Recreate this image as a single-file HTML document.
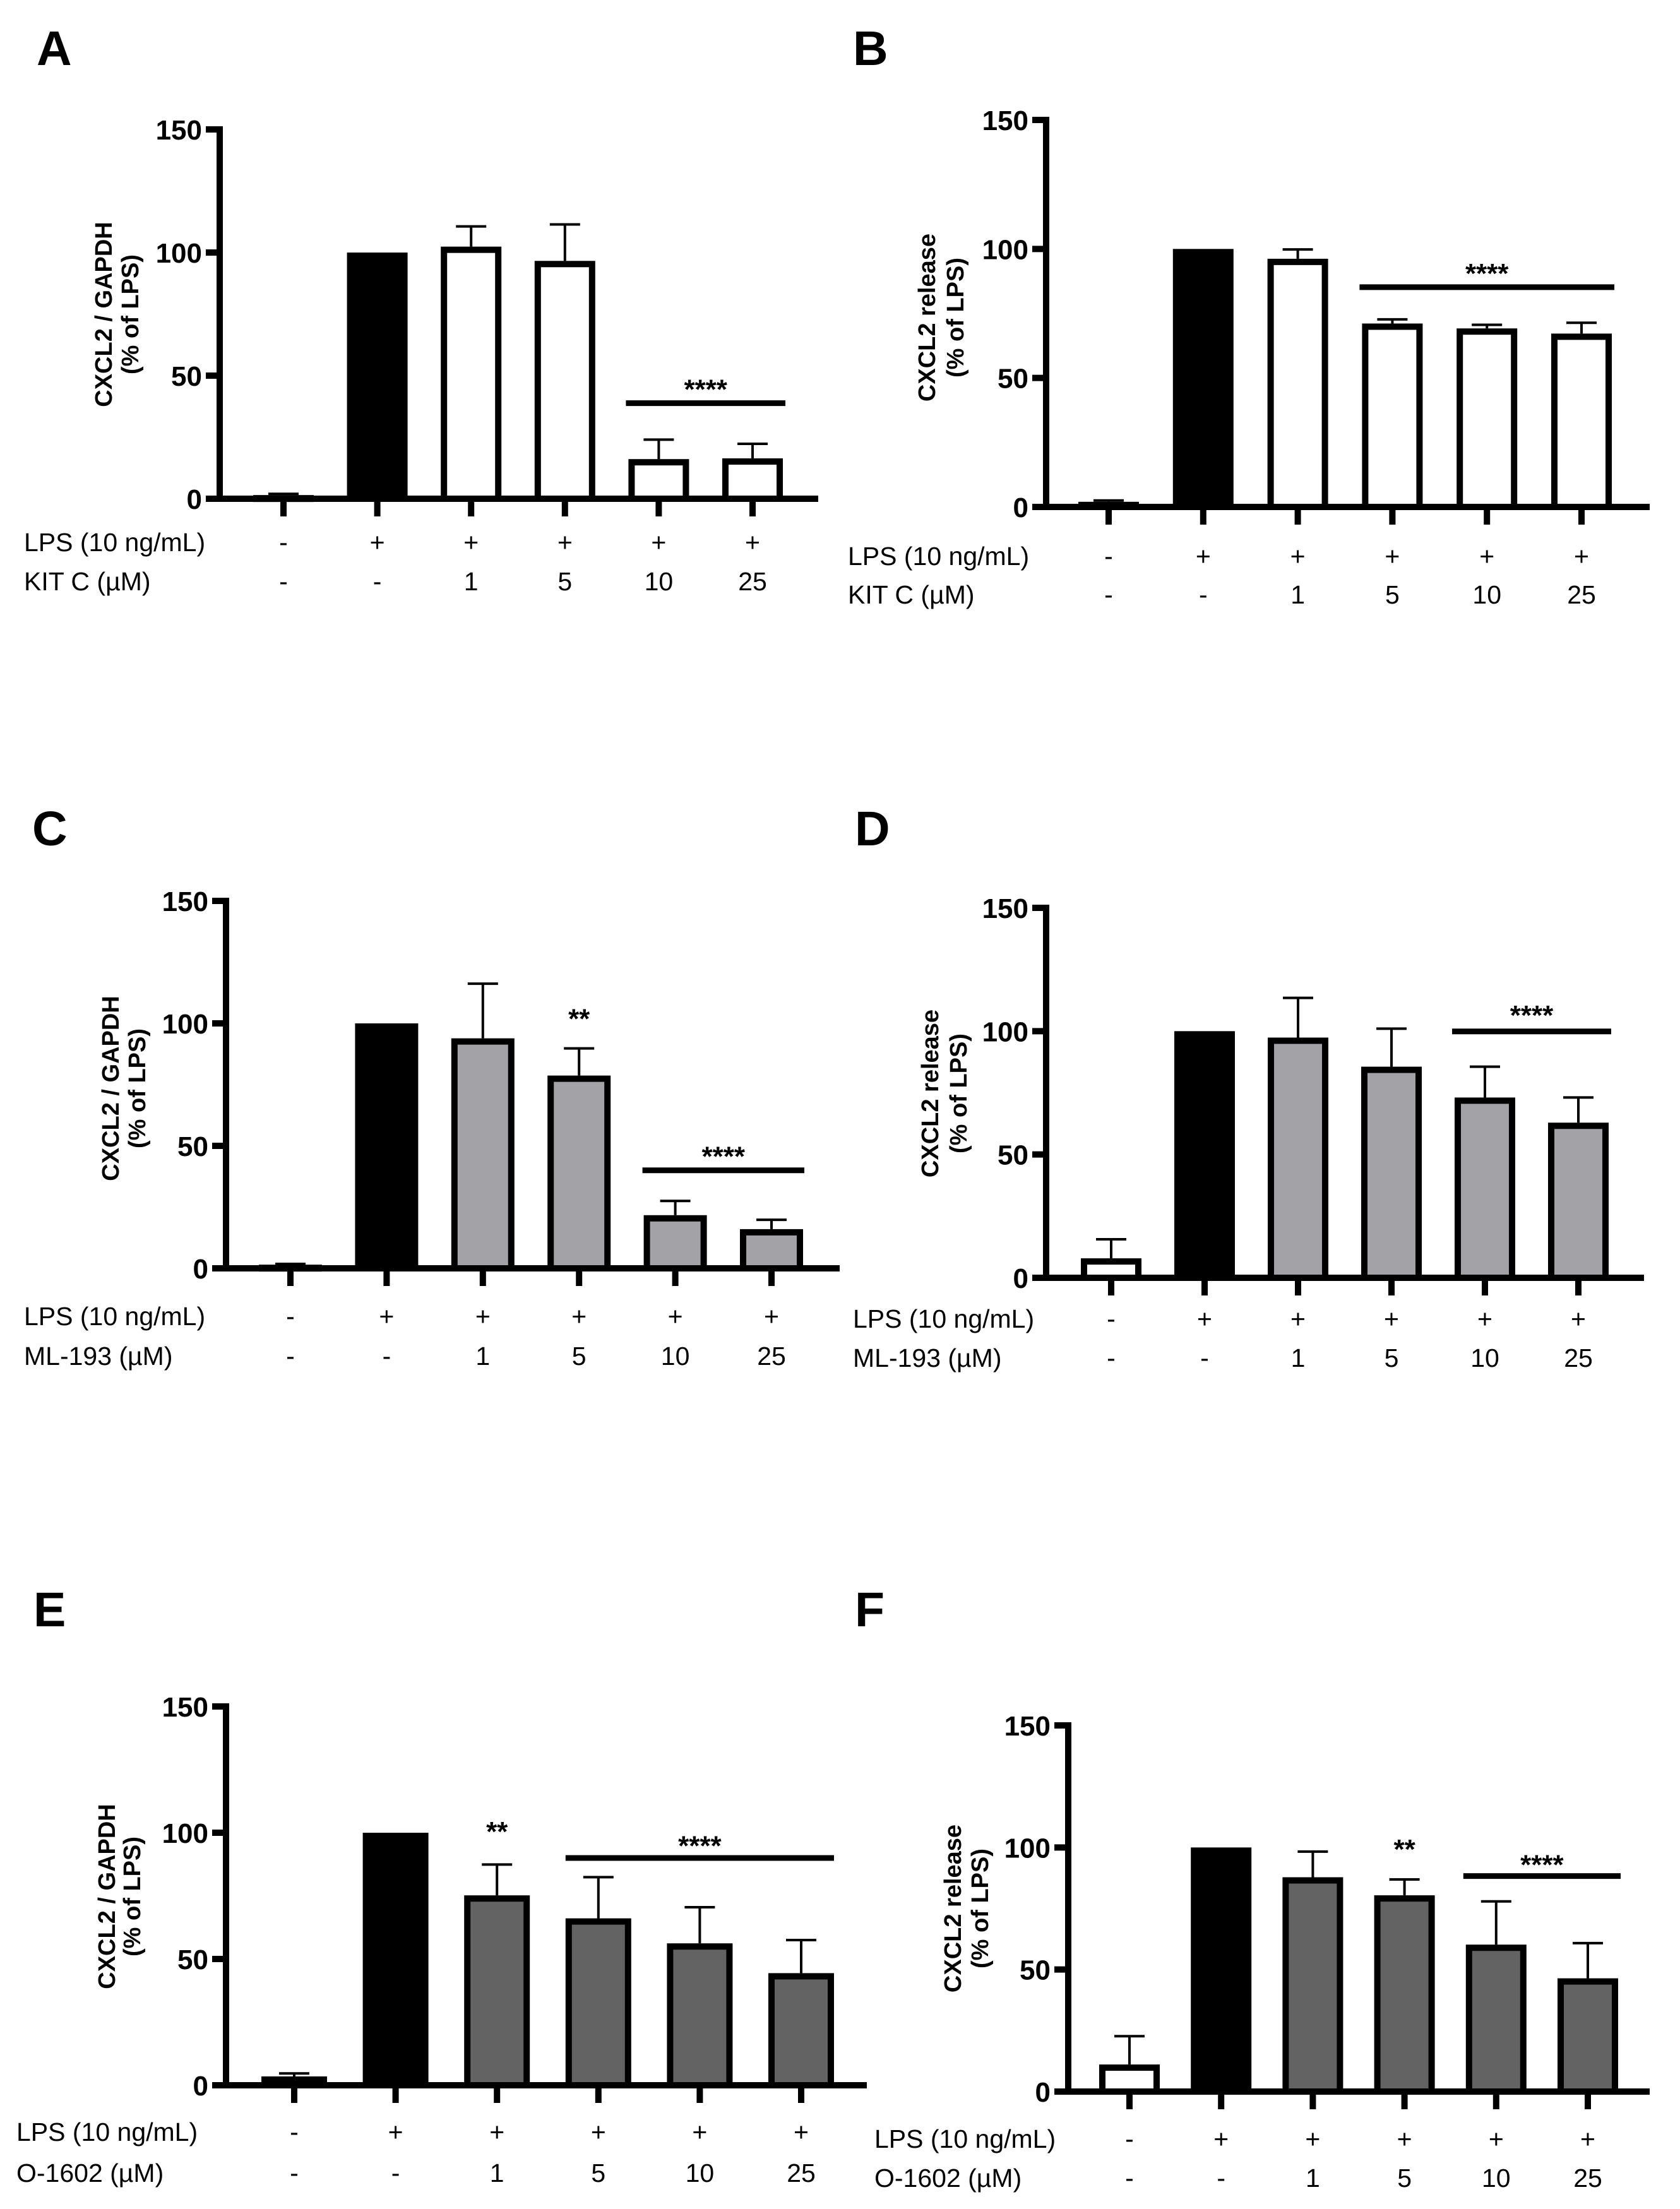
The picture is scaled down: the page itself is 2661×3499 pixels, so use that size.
<!DOCTYPE html>
<html><head><meta charset="utf-8"><style>
html,body{margin:0;padding:0;background:#fff}
svg{display:block}
</style></head><body>
<svg id="fig" width="2661" height="3499" viewBox="0 0 2661 3499" xmlns="http://www.w3.org/2000/svg" font-family="'Liberation Sans', sans-serif"></svg>
<script>
// ---- data ----
const lpsRow = ['-','+','+','+','+','+'];
const doseRow = ['-','-','1','5','10','25'];
const yTicks = [0,50,100,150];
const meanA = [1.5,100,102.4,96.6,16.1,16.4];
const errA  = [0.5,0,8.2,14.8,7.9,5.9];
const meanB = [2,100,96.2,71.1,69.2,67.2];
const errB  = [0.5,0,3.6,1.6,1.4,4.2];
const meanC = [1.5,100,93.9,78.7,21.7,16.0];
const errC  = [0.3,0,22.3,11.1,5.8,3.8];
const meanD = [7.9,100,97.4,85.6,73.1,62.9];
const errD  = [7.7,0,16.1,15.4,12.5,10.2];
const meanE = [3.5,100,75.2,66.1,56.2,44.4];
const errE  = [1.2,0,12.2,16.3,14.3,13.1];
const meanF = [11.1,100,87.8,80.4,60.2,46.4];
const errF  = [11.6,0,10.5,6.5,17.7,14.4];
// significance: [fromIndex, toIndex, lineValue, starValue]
const sigA = [4,5,38.8,47];
const sigB = [3,5,85.2,93];
const sigC = [4,5,40,48.3];
const sigD = [4,5,99.9,109];
const sigE = [3,5,90,97.4];
const sigF = [4,5,88.3,95.5];
// double-star markers: [index, value]
const dblC = [3,104.5];
const dblE = [2,103];
const dblF = [3,101.9];

// ---- layout ----
const NS='http://www.w3.org/2000/svg';
const svg=document.getElementById('fig');
function el(tag,attrs,parent){const e=document.createElementNS(NS,tag);for(const k in attrs)e.setAttribute(k,attrs[k]);(parent||svg).appendChild(e);return e;}

const panels=[
 {id:'a',letter:'A',mean:meanA,err:errA,sig:sigA,dbl:null,fill:'#ffffff',ax:348,y0:790,y150:205,c0:449,step:148.6,bw:96,axEnd:1296,lx:38,rows:[859,921],tx:[164,206],ty:498,L:[58,103],title:'CXCL2 / GAPDH',drug:'KIT C (µM)'},
 {id:'b',letter:'B',mean:meanB,err:errB,sig:sigB,dbl:null,fill:'#ffffff',ax:1657,y0:803,y150:190,c0:1756,step:149.8,bw:96,axEnd:2613,lx:1343,rows:[881,942],tx:[1468,1513],ty:503,L:[1351,103],title:'CXCL2 release',drug:'KIT C (µM)'},
 {id:'c',letter:'C',mean:meanC,err:errC,sig:sigC,dbl:dblC,fill:'#a3a2a7',ax:358,y0:2009,y150:1427,c0:460,step:152.4,bw:100,axEnd:1330,lx:38,rows:[2085,2148],tx:[175,217],ty:1724,L:[51,1339],title:'CXCL2 / GAPDH',drug:'ML-193 (µM)'},
 {id:'d',letter:'D',mean:meanD,err:errD,sig:sigD,dbl:null,fill:'#a3a2a7',ax:1657,y0:2024,y150:1438,c0:1760,step:148,bw:96,axEnd:2604,lx:1351,rows:[2089,2151],tx:[1473,1518],ty:1732,L:[1354,1339],title:'CXCL2 release',drug:'ML-193 (µM)'},
 {id:'e',letter:'E',mean:meanE,err:errE,sig:sigE,dbl:dblE,fill:'#636363',ax:358,y0:3303,y150:2703,c0:466,step:160.6,bw:104,axEnd:1373,lx:26,rows:[3377,3442],tx:[169,209],ty:3004,L:[53,2576],title:'CXCL2 / GAPDH',drug:'O-1602 (µM)'},
 {id:'f',letter:'F',mean:meanF,err:errF,sig:sigF,dbl:dblF,fill:'#636363',ax:1692,y0:3313,y150:2733,c0:1789,step:145.2,bw:96,axEnd:2613,lx:1385,rows:[3388,3450],tx:[1509,1552],ty:3023,L:[1354,2576],title:'CXCL2 release',drug:'O-1602 (µM)'}
];

panels.forEach(p=>{
  const g=el('g',{});
  
  
  const y=v=>p.y0-(v/150)*(p.y150-p.y0)*-1;
  const x=i=>p.c0+i*p.step;
  // letter
  const lt=el('text',{x:p.L[0],y:p.L[1],'font-size':77,'font-weight':'bold',fill:'#000'},g);
  lt.textContent=p.letter;
  
  
  // y title
  const tg=el('g',{},g);
  
  
  [p.title,'(% of LPS)'].forEach((s,k)=>{
    const t=el('text',{x:0,y:0,transform:`translate(${p.tx[k]+13},${p.ty}) rotate(-90)`,'text-anchor':'middle','font-size':38,'font-weight':'bold'},tg);
    t.textContent=s;
  });
  // bars
  p.mean.forEach((m,i)=>{
    const cx=x(i), top=y(m), sw=10;
    if(p.err[i]>0){
      const e=el('g',{},g);
      
      
      el('line',{x1:cx,x2:cx,y1:top,y2:y(m+p.err[i]),stroke:'#000','stroke-width':4},e);
      el('line',{x1:cx-24,x2:cx+24,y1:y(m+p.err[i]),y2:y(m+p.err[i]),stroke:'#000','stroke-width':4},e);
    }
    let r;
    if(i===1){
      r=el('rect',{x:cx-p.bw/2,y:top,width:p.bw,height:p.y0-top,fill:'#000'},g);
    } else {
      const h=Math.max(p.y0-top-sw/2,1);
      r=el('rect',{x:cx-p.bw/2+sw/2,y:top+sw/2,width:p.bw-sw,height:h,fill:i===0?'#fff':p.fill,stroke:'#000','stroke-width':sw},g);
    }
    
    
  });
  // axes
  const axg=el('g',{},g);
  
  
  el('line',{x1:p.ax,x2:p.ax,y1:p.y150-5,y2:p.y0+5,stroke:'#000','stroke-width':10},axg);
  el('line',{x1:p.ax-22,x2:p.axEnd,y1:p.y0,y2:p.y0,stroke:'#000','stroke-width':10},axg);
  yTicks.forEach(v=>{
    el('line',{x1:p.ax-22,x2:p.ax,y1:y(v),y2:y(v),stroke:'#000','stroke-width':10},axg);
    const t=el('text',{x:p.ax-28,y:y(v)+16,'text-anchor':'end','font-size':44,'font-weight':'bold'},axg);
    t.textContent=v;
    
    
  });
  p.mean.forEach((m,i)=>{
    el('line',{x1:x(i),x2:x(i),y1:p.y0,y2:p.y0+28,stroke:'#000','stroke-width':10},axg);
  });
  // rows
  [['LPS (10 ng/mL)',lpsRow],[p.drug,doseRow]].forEach((row,k)=>{
    const t=el('text',{x:p.lx,y:p.rows[k]+14,'font-size':41},g);
    t.textContent=row[0];
    
    
    row[1].forEach((s,i)=>{
      const c=el('text',{x:x(i),y:p.rows[k]+14,'font-size':41,'text-anchor':'middle'},g);
      c.textContent=s;
      
      
    });
  });
  // significance
  const s=p.sig;
  const sl=el('line',{x1:x(s[0])-52,x2:x(s[1])+52,y1:y(s[2]),y2:y(s[2]),stroke:'#000','stroke-width':9},g);
  
  
  const st=el('text',{x:(x(s[0])+x(s[1]))/2,y:y(s[3])+25,'text-anchor':'middle','font-size':44,'font-weight':'bold'},g);
  st.textContent='****';
  
  
  if(p.dbl){
    const d=el('text',{x:x(p.dbl[0]),y:y(p.dbl[1])+25,'text-anchor':'middle','font-size':44,'font-weight':'bold'},g);
    d.textContent='**';
    
    
  }
});
</script>
</body></html>
